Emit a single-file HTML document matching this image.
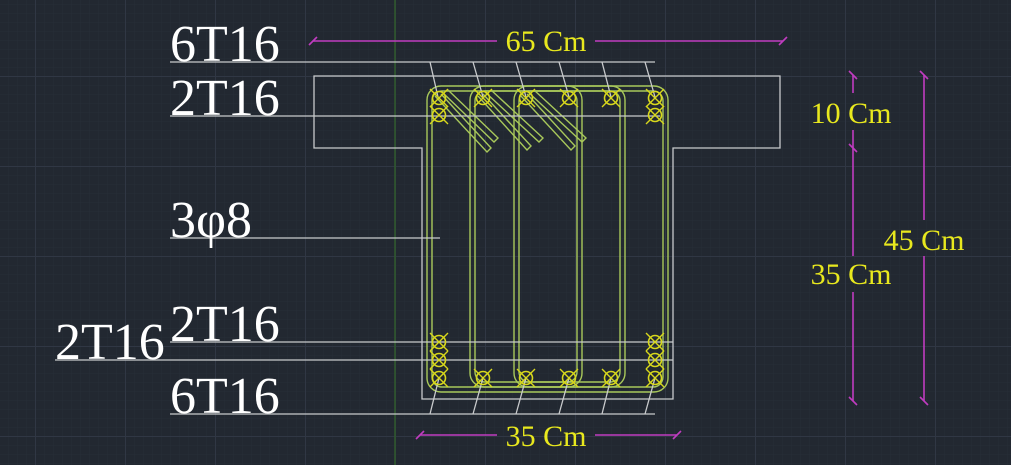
<!DOCTYPE html>
<html><head><style>
html,body{margin:0;padding:0;background:#222831;}
svg{display:block;}
</style></head><body>
<svg width="1011" height="465" viewBox="0 0 1011 465" xmlns="http://www.w3.org/2000/svg">
<defs>
<pattern id="minor" width="9" height="9" patternUnits="userSpaceOnUse" x="395" y="76">
<path d="M0 0H9M0 0V9" stroke="#272e38" stroke-width="1" fill="none"/>
</pattern>
<pattern id="major" width="90" height="90" patternUnits="userSpaceOnUse" x="395" y="76">
<path d="M0 0.5H90M0.5 0V90" stroke="#303744" stroke-width="1" fill="none"/>
</pattern>
<g id="bar">
<circle r="6.5" fill="none" stroke="#d8d81c" stroke-width="1.6"/>
<path d="M-9 -9L9 9M-9 9L9 -9" stroke="#d8d81c" stroke-width="1.4"/>
</g>
</defs>
<rect width="1011" height="465" fill="#222831"/>
<rect width="1011" height="465" fill="url(#minor)"/>
<rect width="1011" height="465" fill="url(#major)"/>
<line x1="395" y1="0" x2="395" y2="465" stroke="#2f5a2c" stroke-width="1.5"/>

<path d="M314 76H780V148H673V399H422V148H314Z" fill="none" stroke="#c8cacc" stroke-width="1.3"/>

<g fill="none" stroke="#a8c85a" stroke-width="1.4">
<rect x="427" y="86" width="241" height="306" rx="14"/>
<rect x="432" y="91" width="231" height="296" rx="10"/>
<rect x="470" y="86" width="155" height="301" rx="14"/>
<rect x="475" y="91" width="145" height="291" rx="10"/>
<rect x="514" y="86" width="68" height="301" rx="14"/>
<rect x="519" y="91" width="58" height="291" rx="10"/>
<path d="M435 96L487 152L491 148L441 94"/>
<path d="M442 92L494 142L498 138L448 90"/>
<path d="M478 96L527 150L531 146L483 94"/>
<path d="M485 92L539 142L543 138L491 90"/>
<path d="M521 96L571 150L575 146L527 94"/>
<path d="M528 92L582 142L586 138L534 90"/>
</g>

<g stroke="#c8cacc" stroke-width="1.3" fill="none">
<path d="M170 62H655"/>
<path d="M170 116H660"/>
<path d="M170 238H440"/>
<path d="M170 342H673"/>
<path d="M55 360H673"/>
<path d="M170 414H655"/>
<path d="M430 62L438 97M473 62L483 97M516 62L526 97M559 62L569 97M602 62L611 97M645 62L655 97"/>
<path d="M430 414L439 378M473 414L483 378M516 414L526 378M559 414L569 378M602 414L611 378M645 414L655 378"/>
</g>

<use href="#bar" x="439" y="98"/><use href="#bar" x="439" y="115"/>
<use href="#bar" x="483" y="98"/><use href="#bar" x="526" y="98"/>
<use href="#bar" x="569" y="98"/><use href="#bar" x="611" y="98"/>
<use href="#bar" x="655" y="98"/><use href="#bar" x="655" y="115"/>
<use href="#bar" x="439" y="342"/><use href="#bar" x="439" y="360"/><use href="#bar" x="439" y="378"/>
<use href="#bar" x="483" y="378"/><use href="#bar" x="526" y="378"/>
<use href="#bar" x="569" y="378"/><use href="#bar" x="611" y="378"/>
<use href="#bar" x="655" y="342"/><use href="#bar" x="655" y="360"/><use href="#bar" x="655" y="378"/>

<g stroke="#c03cc0" stroke-width="1.6" fill="none">
<path d="M313 41H497M595 41H783"/>
<path d="M309 45L317 37M779 45L787 37"/>
<path d="M420 435H497M595 435H677"/>
<path d="M416 439L424 431M673 439L681 431"/>
<path d="M853 75V93M853 130V256M853 292V401"/>
<path d="M849 71L857 79M849 144L857 152M849 397L857 405"/>
<path d="M924 75V220M924 256V401"/>
<path d="M920 71L928 79M920 397L928 405"/>
</g>

<g font-family="'Liberation Serif',serif" fill="#e8e81e" font-size="30">
<text x="546" y="51" text-anchor="middle">65 Cm</text>
<text x="546" y="446" text-anchor="middle">35 Cm</text>
<text x="851" y="123" text-anchor="middle">10 Cm</text>
<text x="851" y="284" text-anchor="middle">35 Cm</text>
<text x="924" y="250" text-anchor="middle">45 Cm</text>
</g>
<g font-family="'Liberation Serif',serif" fill="#ffffff" font-size="52">
<text x="170" y="61">6T16</text>
<text x="170" y="115">2T16</text>
<text x="170" y="237">3φ8</text>
<text x="170" y="341">2T16</text>
<text x="55" y="359">2T16</text>
<text x="170" y="413">6T16</text>
</g>
</svg>
</body></html>
